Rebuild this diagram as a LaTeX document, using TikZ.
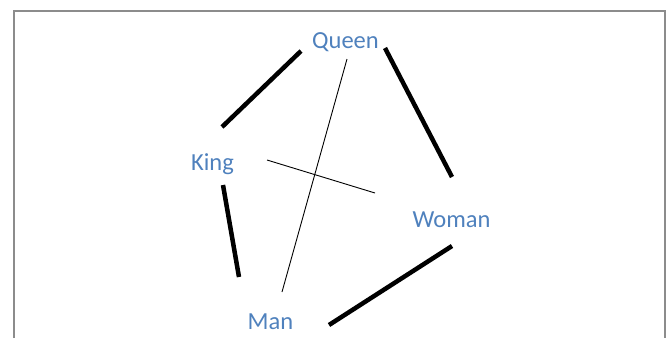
\documentclass[tikz,border=0pt]{standalone}
\usepackage{fontspec}
\setmainfont{Carlito}
\usetikzlibrary{calc,positioning}
\definecolor{wordblue}{RGB}{79,129,189}
\definecolor{framegray}{RGB}{140,140,140}
\begin{document}
\begin{tikzpicture}[x=1pt, y=-1pt,
    word/.style={anchor=base, inner sep=0pt, text=wordblue, font=\fontsize{24.5}{28}\selectfont},
    strong/.style={line width=4.5pt},
    weak/.style={line width=0.9pt}]
                \useasboundingbox (0,0) rectangle (670,338);
                % frame
                \draw[framegray, line width=1.2pt] (14,338) -- (14,11) -- (665,11) -- (665,338);
                % words
                \node[word] (queen) at (345.5,48) {Queen};
                \node[word] (king) at (212.5,170) {King};
                \node[word] (woman) at (451.5,227) {Woman};
                \node[word] (man) at (270.5,329) {Man};
                % strong links
                \draw[strong] ($(king.base)+(9.5,-43)$) -- ($(queen.base)+(-44.5,3)$);
                \draw[strong] ($(queen.base)+(39.5,0)$) -- ($(woman.base)+(0.5,-50)$);
                \draw[strong] ($(king.base)+(10.5,15)$) -- ($(man.base)+(-31.5,-52)$);
                \draw[strong] ($(woman.base)+(0.5,19)$) -- ($(man.base)+(58.5,-4)$);
                % weak links
                \draw[weak] ($(queen.base)+(1.5,11)$) -- ($(man.base)+(11.5,-37)$);
                \draw[weak] ($(king.base)+(54.5,-10)$) -- ($(woman.base)+(-76.5,-34)$);
            \end{tikzpicture}
\end{document}
